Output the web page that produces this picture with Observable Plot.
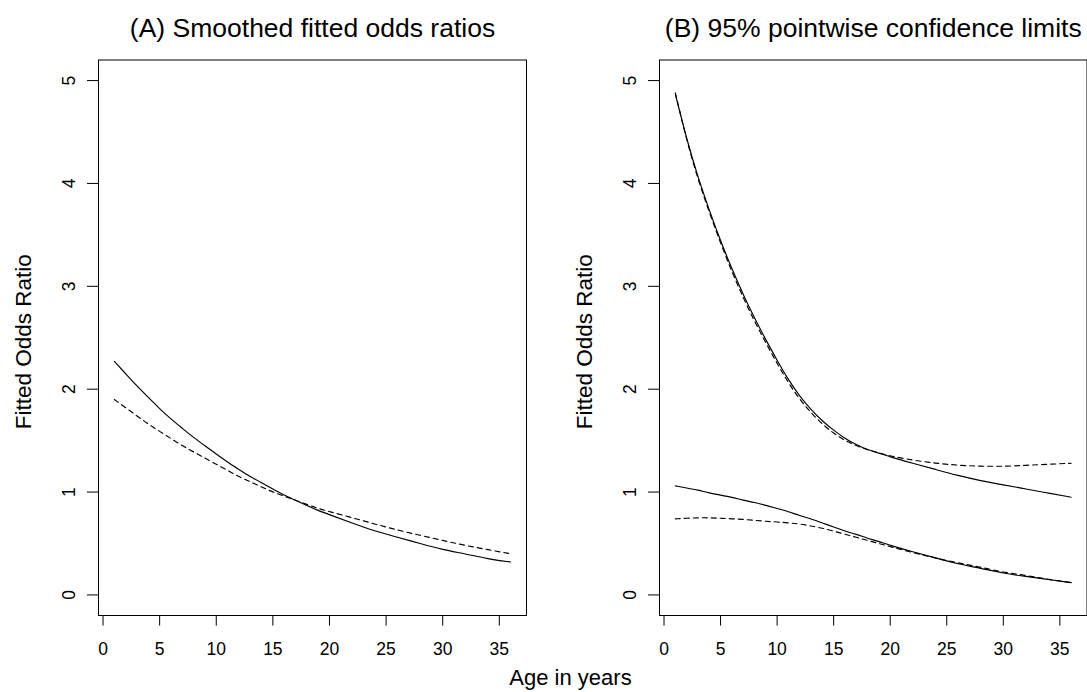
<!DOCTYPE html>
<html>
<head>
<meta charset="utf-8">
<script src="https://cdn.jsdelivr.net/npm/d3@7"></script>
<script src="https://cdn.jsdelivr.net/npm/@observablehq/plot@0.6"></script>
<style>
  html, body { margin: 0; padding: 0; background: white; }
  #wrap { position: relative; width: 1087px; height: 692px; overflow: hidden; background: white;
          font-family: "Liberation Sans", Arial, sans-serif; }
  #wrap svg { position: absolute; top: 0; z-index: 1; }
  #xlab { position: absolute; left: 570.5px; top: 667px; transform: translateX(-50%); z-index: 5;
          font-size: 22px; line-height: 22px; white-space: nowrap; color: black; }
</style>
</head>
<body>
<div id="wrap"><div id="xlab"></div></div>
<script>
// ---- data ----
const age = [1,2,3,4,5,6,7,8,9,10,11,12,13,14,15,16,17,18,19,20,22,24,26,28,30,32,34,36];

// Panel A
const smoothA = [2.27,2.15,2.03,1.92,1.81,1.71,1.62,1.53,1.45,1.37,1.29,1.22,1.15,1.09,1.03,0.97,0.92,0.87,0.82,0.78,0.70,0.62,0.56,0.50,0.44,0.40,0.35,0.32];
const dashedA = [1.90,1.82,1.74,1.66,1.59,1.52,1.45,1.39,1.33,1.27,1.21,1.15,1.10,1.05,1.00,0.96,0.92,0.88,0.84,0.81,0.75,0.69,0.63,0.58,0.53,0.48,0.44,0.40];

// Panel B
const upperSolidB  = [4.87,4.43,4.06,3.74,3.44,3.17,2.92,2.69,2.48,2.28,2.09,1.93,1.80,1.69,1.60,1.52,1.46,1.41,1.38,1.34,1.28,1.22,1.16,1.11,1.07,1.03,0.99,0.95];
const upperDashedB = [4.88,4.42,4.04,3.72,3.42,3.14,2.89,2.66,2.45,2.25,2.06,1.90,1.77,1.66,1.57,1.50,1.45,1.41,1.38,1.35,1.31,1.28,1.26,1.25,1.25,1.26,1.27,1.28];
const lowerSolidB  = [1.06,1.04,1.02,0.99,0.97,0.95,0.92,0.90,0.87,0.84,0.81,0.77,0.74,0.70,0.66,0.62,0.59,0.55,0.52,0.48,0.42,0.36,0.30,0.26,0.21,0.18,0.15,0.12];
const lowerDashedB = [0.74,0.745,0.75,0.75,0.745,0.74,0.735,0.725,0.715,0.71,0.70,0.69,0.67,0.65,0.62,0.59,0.56,0.53,0.50,0.47,0.41,0.36,0.31,0.27,0.22,0.19,0.15,0.12];

const xTicks = [0,5,10,15,20,25,30,35];
const yTicks = [0,1,2,3,4,5];
const titleA = "(A) Smoothed fitted odds ratios";
const titleB = "(B) 95% pointwise confidence limits";
const yLabel = "Fitted Odds Ratio";
const xLabel = "Age in years";

// ---- drawing ----
const FONT = "Liberation Sans, Arial, sans-serif";
const toRows = (vals) => age.map((a, i) => ({age: a, v: vals[i]}));

function panel({title, solid, dashed, width, marginLeft, marginRight}) {
  const marks = [Plot.frame({stroke: "black", strokeWidth: 1})];
  for (const s of solid) marks.push(Plot.line(toRows(s), {x: "age", y: "v", stroke: "black", strokeWidth: 1.15, curve: "basis"}));
  for (const s of dashed) marks.push(Plot.line(toRows(s), {x: "age", y: "v", stroke: "black", strokeWidth: 1.15, strokeDasharray: "5,4", curve: "basis"}));
  marks.push(
    Plot.axisX({ticks: xTicks, tickFormat: d3.format("d"), tickSize: 10.6, tickPadding: 16.5, fontSize: 17.5, label: null, stroke: "black"}),
    Plot.axisY({ticks: yTicks, tickFormat: d3.format("d"), tickSize: 11, tickPadding: 13, tickRotate: -90, fontSize: 17.5, label: null, stroke: "black"}),
    Plot.text([title], {text: d => d, frameAnchor: "top", dy: -23, lineAnchor: "bottom", textAnchor: "middle", fontSize: 26.5, fill: "black"}),
    Plot.text([yLabel], {text: d => d, frameAnchor: "left", dx: -75, dy: 4, rotate: -90, textAnchor: "middle", lineAnchor: "middle", fontSize: 22.5, fill: "black"})
  );
  return Plot.plot({
    width, height: 692,
    marginLeft, marginRight, marginTop: 59.5, marginBottom: 77,
    x: {domain: [-0.4, 37.4], label: null},
    y: {domain: [-0.2, 5.2], label: null},
    style: {fontFamily: FONT, background: "white", color: "black", overflow: "visible"},
    marks
  });
}

const wrap = document.getElementById("wrap");
const left = panel({title: titleA, solid: [smoothA], dashed: [dashedA], width: 544, marginLeft: 98, marginRight: 18});
left.style.left = "0px";
const right = panel({title: titleB, solid: [upperSolidB, lowerSolidB], dashed: [upperDashedB, lowerDashedB], width: 543, marginLeft: 115, marginRight: 0.5});
right.style.left = "544px";
wrap.appendChild(left);
wrap.appendChild(right);
document.getElementById("xlab").textContent = xLabel;
</script>
</body>
</html>
